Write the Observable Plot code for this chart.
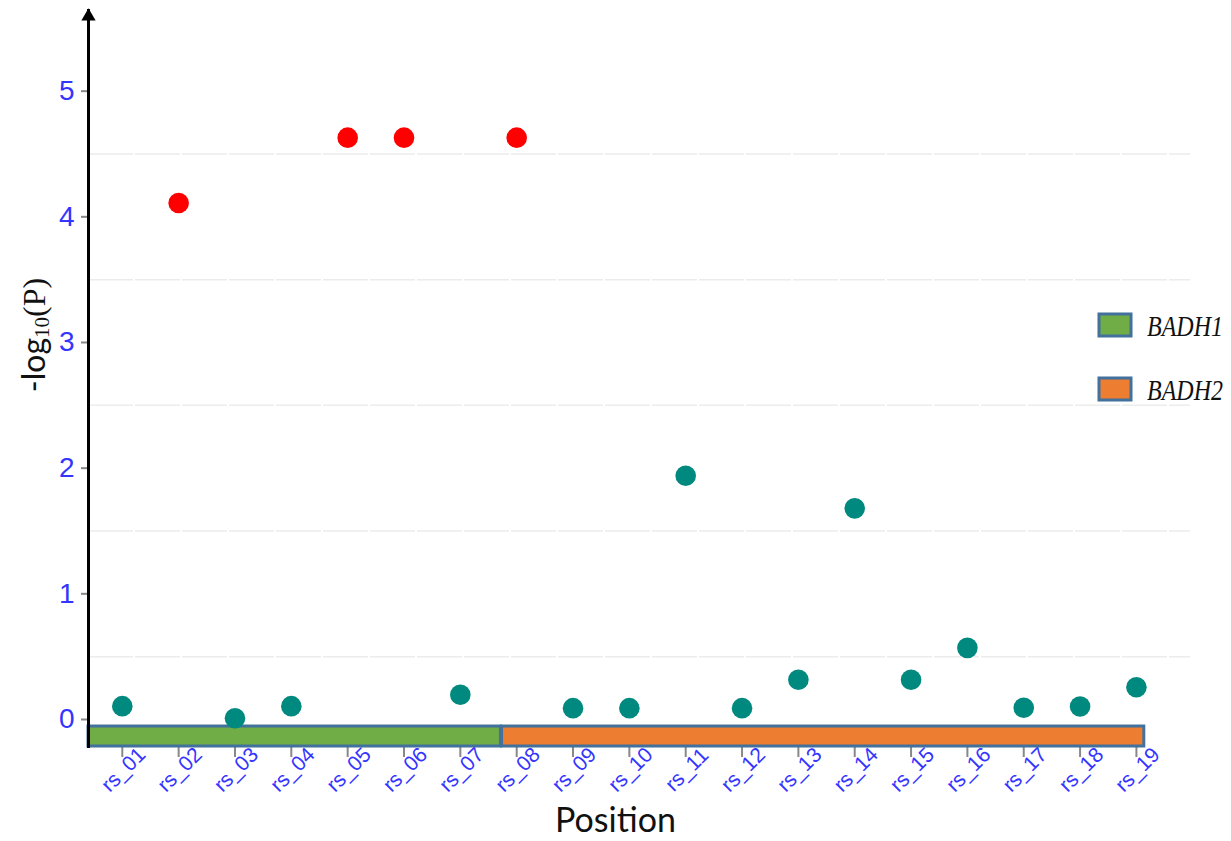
<!DOCTYPE html>
<html>
<head>
<meta charset="utf-8">
<script src="https://cdn.jsdelivr.net/npm/d3@7"></script>
<script src="https://cdn.jsdelivr.net/npm/@observablehq/plot@0.6"></script>
<style>
  html, body { margin: 0; padding: 0; background: #fff; }
  #chart { position: relative; width: 1231px; height: 841px; }
</style>
</head>
<body>
<div id="chart"></div>
<script>
// ---- data ----
const snps = ["rs_01","rs_02","rs_03","rs_04","rs_05","rs_06","rs_07","rs_08","rs_09","rs_10",
              "rs_11","rs_12","rs_13","rs_14","rs_15","rs_16","rs_17","rs_18","rs_19"];
const logP = [0.106, 4.11, 0.01, 0.106, 4.63, 4.63, 0.197, 4.63, 0.09, 0.09,
              1.94, 0.09, 0.316, 1.68, 0.316, 0.57, 0.093, 0.103, 0.257];
const genes = ["BADH1", "BADH2"];
const geneStart = [0.4, 7.74];
const geneEnd = [7.72, 19.14];
const geneColors = ["#70AD47", "#ED7D31"];
const yTicks = [0, 1, 2, 3, 4, 5];
const gridVals = [0.5, 1.5, 2.5, 3.5, 4.5];
const trackY = [-0.215, -0.056];
const sigThreshold = 4;

const points = snps.map((s, i) => ({snp: s, idx: i + 1, v: logP[i]}));
const geneRows = genes.map((g, i) => ({gene: g, x1: geneStart[i], x2: geneEnd[i], color: geneColors[i]}));

const blue = "#3434ff";
const plot = Plot.plot({
  width: 1231,
  height: 841,
  marginLeft: 88,
  marginRight: 41,
  marginTop: 10,
  marginBottom: 95,
  style: {background: "white", overflow: "visible"},
  x: {domain: [0.4, 19.96], axis: null},
  y: {domain: [-0.215, 5.642], axis: null},
  marks: [
    Plot.ruleY(gridVals, {stroke: "#ececec", strokeWidth: 1.5, strokeDasharray: "45,2"}),
    Plot.axisY({ticks: yTicks, tickFormat: "d", tickSize: 7, tickPadding: 7, stroke: "#888", strokeWidth: 2,
                fill: blue, fontSize: 28, fontFamily: "Liberation Sans, Arial, sans-serif", label: null}),
    Plot.axisX({ticks: points.map(d => d.idx), tickSize: 11, stroke: "#888", strokeWidth: 2,
                fill: "none", label: null}),
    Plot.text(points, {x: "idx", text: "snp", frameAnchor: "bottom", dy: 28, dx: 6, rotate: -45,
                       textAnchor: "middle", fill: blue, fontSize: 21,
                       fontFamily: "Liberation Sans, Arial, sans-serif"}),
    Plot.rect(geneRows, {x1: "x1", x2: "x2", y1: trackY[0], y2: trackY[1], fill: "color",
                         stroke: "#41719C", strokeWidth: 3}),
    Plot.dot(points, {x: "idx", y: "v", r: 10.3, fill: d => d.v > sigThreshold ? "#ff0000" : "#00897f",
                      stroke: null}),
    Plot.frame({anchor: "left", stroke: "black", strokeWidth: 3}),
    Plot.dot([0], {frameAnchor: "top-left", symbol: "triangle", r: 5.3, fill: "black", dy: 6}),
    Plot.text(["Position"], {frameAnchor: "bottom", dy: 85, dx: -24, fontSize: 34,
                             fontFamily: "Lato, Open Sans, sans-serif", fill: "#111"})
  ]
});

const svg = d3.select(plot);
// y-axis label
const yl = svg.append("text")
  .attr("transform", "translate(45,335) rotate(-90)")
  .attr("text-anchor", "middle")
  .attr("fill", "#111");
yl.append("tspan").attr("font-family", "Lato, Open Sans, sans-serif").attr("font-size", 32).text("-log");
yl.append("tspan").attr("font-family", "Liberation Serif, serif").attr("font-size", 21).attr("dy", 4).text("10");
yl.append("tspan").attr("font-family", "Liberation Serif, serif").attr("font-size", 32).attr("dy", -4).text("(P)");

// legend
const leg = svg.append("g").attr("text-anchor", "start");
genes.forEach((g, i) => {
  const y0 = 314 + i * 64;
  leg.append("rect").attr("x", 1099).attr("y", y0).attr("width", 32).attr("height", 22)
    .attr("fill", geneColors[i]).attr("stroke", "#41719C").attr("stroke-width", 3);
  leg.append("text")
    .attr("transform", `translate(1147,${y0 + 22}) scale(0.8,1)`)
    .attr("text-anchor", "start")
    .attr("font-family", "Liberation Serif, Times New Roman, serif").attr("font-style", "italic")
    .attr("font-size", 30)
    .attr("fill", "#111").text(g);
});

document.getElementById("chart").appendChild(plot);
</script>
</body>
</html>
